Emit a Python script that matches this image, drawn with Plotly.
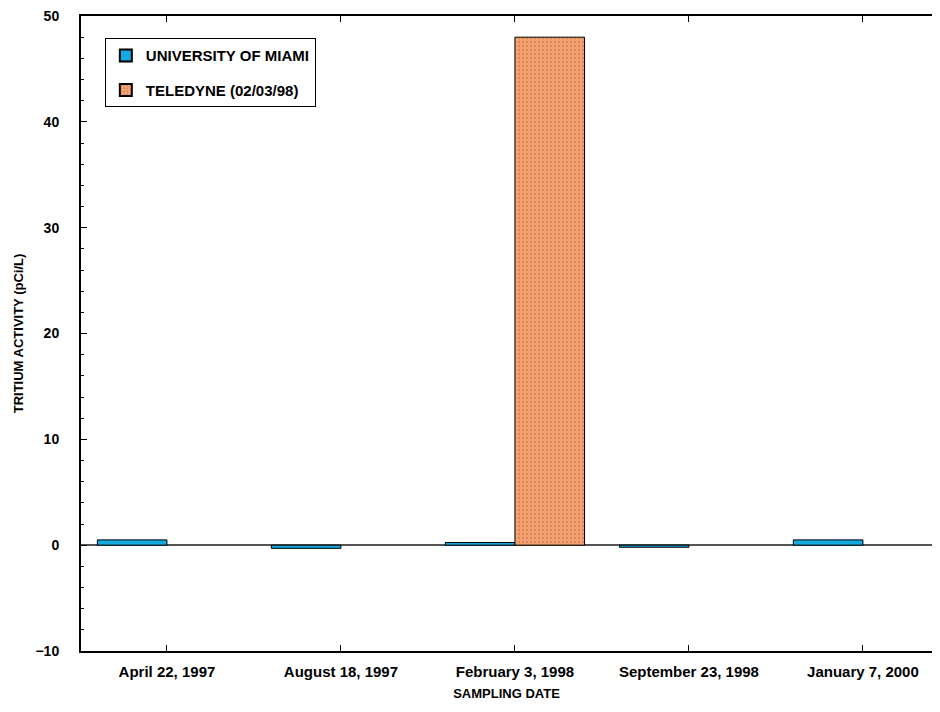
import plotly.graph_objects as go

dates = ["April 22, 1997", "August 18, 1997", "February 3, 1998", "September 23, 1998", "January 7, 2000"]
miami = [0.5, -0.3, 0.25, -0.2, 0.5]
teledyne = [None, None, 48.0, None, None]
y_ticks = [-10, 0, 10, 20, 30, 40, 50]

FONT = "Arial, Liberation Sans, sans-serif"

fig = go.Figure()
fig.add_trace(go.Bar(
    x=dates, y=miami, name="UNIVERSITY OF MIAMI", legendgroup="a",
    marker=dict(color="#14A9E1", line=dict(color="#000000", width=1)),
))
fig.add_trace(go.Bar(
    x=dates, y=teledyne, name="TELEDYNE (02/03/98)", legendgroup="b",
    marker=dict(color="#F3A270", line=dict(color="#000000", width=1),
                pattern=dict(shape=".", fgcolor="#B86A40", bgcolor="#F3A270", size=4, solidity=0.25)),
))

fig.update_layout(
    width=924, height=696,
    margin=dict(l=73, r=0, t=8, b=53, autoexpand=False),
    paper_bgcolor="white", plot_bgcolor="white",
    barmode="group", bargap=0.2, bargroupgap=0,
    font=dict(family=FONT, size=12, color="#000000"),
    showlegend=True,
    legend=dict(x=0.028, y=0.965, xanchor="left", yanchor="top",
                bordercolor="#000000", borderwidth=1, bgcolor="white",
                font=dict(family=FONT, size=15, color="#000000", weight="bold"),
                tracegroupgap=12, traceorder="grouped", itemsizing="constant"),
    xaxis=dict(
        type="category", range=[-0.494, 4.397],
        showline=True, linecolor="#000000", linewidth=2, mirror="ticks",
        ticks="inside", ticklen=6, tickcolor="#000000",
        tickfont=dict(family=FONT, size=15, weight="bold"),
        ticklabelstandoff=6,
        title=dict(text="SAMPLING DATE", font=dict(family=FONT, size=13, weight="bold"), standoff=10),
        showgrid=False, automargin=False,
    ),
    yaxis=dict(
        range=[-10, 50], tickvals=y_ticks,
        showline=True, linecolor="#000000", linewidth=2,
        ticks="inside", ticklen=6, tickcolor="#000000",
        minor=dict(ticks="inside", dtick=2, ticklen=3, tickcolor="#000000"),
        tickfont=dict(family=FONT, size=14, weight="bold"),
        ticklabelstandoff=17, ticklabeloverflow="allow",
        title=dict(text="TRITIUM ACTIVITY (pCi/L)", font=dict(family=FONT, size=13, weight="bold"), standoff=9),
        showgrid=False, automargin=False,
        zeroline=True, zerolinecolor="#555555", zerolinewidth=1.5,
    ),
)

fig.write_html("out.html")
